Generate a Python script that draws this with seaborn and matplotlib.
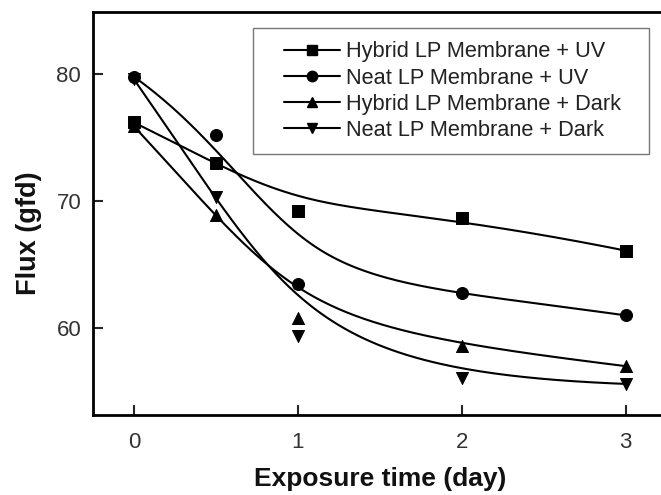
import numpy as np
import pandas as pd
import seaborn as sns
import matplotlib
matplotlib.use("Agg")
import matplotlib.pyplot as plt
from matplotlib.lines import Line2D
from matplotlib.legend_handler import HandlerLine2D

# 数据 (exposure time in days, flux in gfd)
days = [0, 0.5, 1, 2, 3]
hybrid_uv = [76.2, 73.0, 69.2, 68.7, 66.1]
neat_uv = [79.8, 75.2, 63.5, 62.8, 61.0]
hybrid_dark = [75.9, 68.9, 60.8, 58.6, 57.0]
neat_dark = [79.6, 70.3, 59.4, 56.1, 55.6]

labels = ["Hybrid LP Membrane + UV", "Neat LP Membrane + UV",
          "Hybrid LP Membrane + Dark", "Neat LP Membrane + Dark"]
series = [hybrid_uv, neat_uv, hybrid_dark, neat_dark]
markers = ["s", "o", "^", "v"]


# clamped cubic B-spline with the data points as control points
def bspline(px, py, n=200, k=3):
    pts = np.column_stack([px, py]).astype(float)
    m = len(pts)
    inner = np.linspace(0, 1, m - k + 1)[1:-1]
    t = np.concatenate([np.zeros(k + 1), inner, np.ones(k + 1)])
    us = np.linspace(0, 1, n)
    out = []
    for u in us:
        if u >= 1:
            out.append(pts[-1])
            continue
        s = np.searchsorted(t, u, side="right") - 1
        d = [pts[j + s - k].copy() for j in range(k + 1)]
        for r in range(1, k + 1):
            for j in range(k, r - 1, -1):
                a = (u - t[j + s - k]) / (t[j + 1 + s - r] - t[j + s - k])
                d[j] = (1 - a) * d[j - 1] + a * d[j]
        out.append(d[k])
    out = np.array(out)
    return out[:, 0], out[:, 1]


def draw():
    sns.set_style("ticks")
    plt.rcParams["font.family"] = ["Liberation Sans", "DejaVu Sans"]
    fig = plt.figure(figsize=(6.61, 4.95), dpi=100)
    ax = fig.add_axes([0.1407, 0.1616, 0.868, 0.814])

    handles = []
    for vals, lab, mk in zip(series, labels, markers):
        cx, cy = bspline(days, vals)
        curve = pd.DataFrame({"x": cx, "y": cy})
        sns.lineplot(data=curve, x="x", y="y", sort=False, estimator=None,
                     color="black", linewidth=1.5, ax=ax)
        pts = pd.DataFrame({"x": days, "y": vals})
        sns.scatterplot(data=pts, x="x", y="y", marker=mk, s=75,
                        color="black", edgecolor="black", ax=ax, zorder=3)
        handles.append(Line2D([], [], color="black", marker=mk, markersize=7.5,
                              linewidth=1.5, label=lab))

    ax.set_xlim(-0.25, 3.25)
    ax.set_ylim(53.15, 84.9)
    ax.set_xticks([0, 1, 2, 3])
    ax.set_yticks([60, 70, 80])
    ax.tick_params(direction="in", length=7, width=1.5, labelsize=16,
                   labelcolor="#333333")
    ax.tick_params(axis="x", pad=12)
    ax.tick_params(axis="y", pad=8.5)
    for side in ["left", "bottom", "top"]:
        ax.spines[side].set_linewidth(2)
        ax.spines[side].set_color("black")
    ax.spines["right"].set_visible(False)

    ax.set_xlabel("Exposure time (day)", fontsize=19, fontweight="bold",
                  color="#111111")
    ax.set_ylabel("Flux (gfd)", fontsize=19.5, fontweight="bold", color="#111111")
    ax.xaxis.set_label_coords(0.5, -0.128)
    ax.yaxis.set_label_coords(-0.089, 0.452)

    leg = ax.legend(handles=handles, loc="upper left",
                    bbox_to_anchor=(0.279, 0.4, 0.690, 0.56), mode="expand",
                    fontsize=15.7, frameon=True, fancybox=False, edgecolor="#555555",
                    handlelength=3.4, labelspacing=0.24, handletextpad=0.25,
                    borderpad=0.6, borderaxespad=0,
                    handler_map={Line2D: HandlerLine2D(xpad=0.8)})
    leg.get_frame().set_linewidth(1.0)
    for txt in leg.get_texts():
        txt.set_color("#222222")

    fig.savefig("out.png", dpi=100)


if __name__ == "__main__":
    draw()
